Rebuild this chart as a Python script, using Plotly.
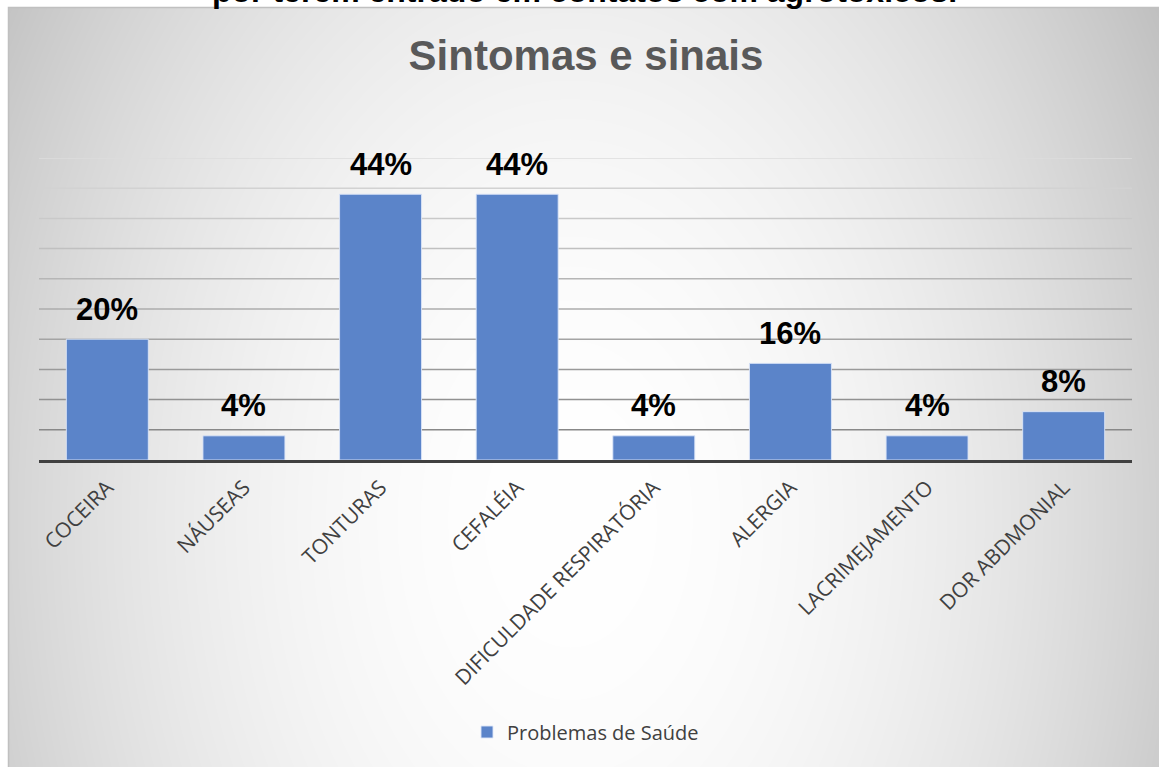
import base64
import struct
import zlib

import numpy as np
import plotly.graph_objects as go

# ---------------- data ----------------
categories = ["COCEIRA", "NÁUSEAS", "TONTURAS", "CEFALÉIA",
              "DIFICULDADE RESPIRATÓRIA", "ALERGIA", "LACRIMEJAMENTO", "DOR ABDMONIAL"]
values = [20, 4, 44, 44, 4, 16, 4, 8]
value_labels = ["20%", "4%", "44%", "44%", "4%", "16%", "4%", "8%"]
series_name = "Problemas de Saúde"
title_text = "Sintomas e sinais"
caption_text = "por terem entrado em contatos com agrotóxicos."
grid_values = [5, 10, 15, 20, 25, 30, 35, 40, 45, 50]

# ---------------- geometry ----------------
W, H = 1159, 767
L, R, T, B = 39, 27, 158, 307
PW, PH = W - L - R, H - T - B


def px_x(px):
    return (px - L) / PW


def px_y(py):
    return (H - B - py) / PH


# ---------------- radial gradient background (PNG data URI) ----------------
bx0, by0 = 8, 7
bw, bh = W - bx0, H - by0
yy, xx = np.mgrid[0:bh, 0:bw].astype(float)
xx += bx0
yy += by0
cx, cy = 570, 520
d2 = ((xx - cx) / 680.0) ** 2 + ((yy - cy) / 1000.0) ** 2
img = np.clip(255 - 62 * d2, 192, 255).astype(np.uint8)


def png_gray(a):
    h, w = a.shape
    raw = b"".join(b"\x00" + a[i].tobytes() for i in range(h))

    def chunk(tag, data):
        c = struct.pack(">I", len(data)) + tag + data
        return c + struct.pack(">I", zlib.crc32(tag + data) & 0xFFFFFFFF)

    sig = b"\x89PNG\r\n\x1a\n"
    ihdr = struct.pack(">IIBBBBB", w, h, 8, 0, 0, 0, 0)
    return sig + chunk(b"IHDR", ihdr) + chunk(b"IDAT", zlib.compress(raw, 9)) + chunk(b"IEND", b"")


bg_uri = "data:image/png;base64," + base64.b64encode(png_gray(img)).decode()

# ---------------- figure ----------------
fig = go.Figure()
fig.add_trace(go.Bar(
    x=categories, y=values, name=series_name,
    marker=dict(color="#5B84C9", line=dict(color="rgba(220,230,248,0.9)", width=1)),
    showlegend=True,
))

# data labels
for c, v, t in zip(categories, values, value_labels):
    fig.add_annotation(x=c, y=v, text=f"<b>{t}</b>", showarrow=False,
                       xref="x", yref="y", yanchor="middle", yshift=30,
                       font=dict(family="Arial, Liberation Sans", size=31, color="#000000"))

# gradient gridlines
shapes = []
lo, hi = 0x88, 0xDC
for gv in grid_values:
    f = (gv - grid_values[0]) / (grid_values[-1] - grid_values[0])
    g = int(lo + (hi - lo) * f)
    shapes.append(dict(type="line", xref="paper", yref="y", x0=0, x1=1, y0=gv, y1=gv,
                       line=dict(color=f"rgb({g},{g},{g})", width=1.5), layer="below"))
# chart border
shapes.append(dict(type="rect", xref="paper", yref="paper",
                   x0=px_x(bx0 + 0.5), x1=px_x(W + 5), y0=px_y(H + 5), y1=px_y(by0 + 0.5),
                   line=dict(color="#C0C0C0", width=1.5), fillcolor="rgba(0,0,0,0)", layer="below"))

fig.add_layout_image(dict(source=bg_uri, xref="paper", yref="paper",
                          x=px_x(bx0), y=px_y(by0), sizex=bw / PW, sizey=bh / PH,
                          xanchor="left", yanchor="top", sizing="stretch", layer="below"))

# cut-off caption at top
fig.add_annotation(text=f"<b>{caption_text}</b>", xref="paper", yref="paper",
                   x=px_x(584), y=px_y(-9), xanchor="center", yanchor="middle",
                   showarrow=False,
                   font=dict(family="Arial, Liberation Sans", size=32, color="#000000"))

fig.update_layout(
    width=W, height=H,
    margin=dict(l=L, r=R, t=T, b=B, pad=0),
    paper_bgcolor="#FFFFFF", plot_bgcolor="rgba(0,0,0,0)",
    title=dict(text=f"<b>{title_text}</b>", x=586 / W, xanchor="center",
               y=1 - 55 / H, yanchor="middle",
               font=dict(family="Arial, Liberation Sans", size=42, color="#595959")),
    bargap=0.4,
    shapes=shapes,
    showlegend=True,
    legend=dict(orientation="h", x=0.5, xanchor="center", y=px_y(732), yanchor="middle",
                font=dict(family="Open Sans", size=20, color="#404040"),
                bgcolor="rgba(0,0,0,0)"),
    xaxis=dict(tickangle=-45, showgrid=False, showline=True, linecolor="#404040", linewidth=3,
               ticks="", ticklabelstandoff=4,
               tickfont=dict(family="Open Sans", size=21, color="#404040")),
    yaxis=dict(range=[0, 50], showgrid=False, zeroline=False, showticklabels=False,
               showline=False, ticks=""),
)

fig.write_html("out.html",
               config={"displayModeBar": False},
               post_script="document.body.style.margin='0px';"
                           "document.documentElement.style.overflow='hidden';")
